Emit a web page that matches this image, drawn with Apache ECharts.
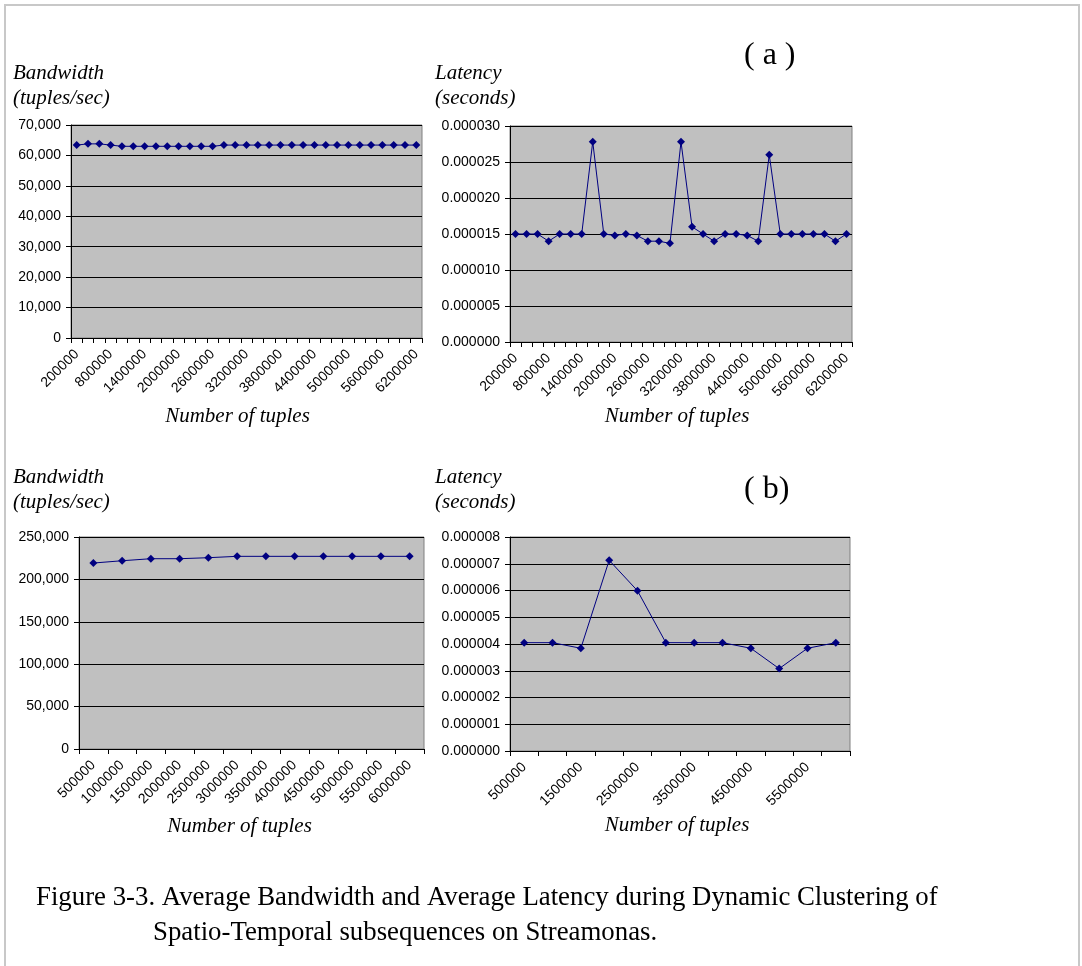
<!DOCTYPE html>
<html>
<head>
<meta charset="utf-8">
<script src="https://cdn.jsdelivr.net/npm/echarts@6/dist/echarts.min.js"></script>
<style>
html,body{margin:0;padding:0;background:#fff;}
#c{width:1082px;height:966px;}
</style>
</head>
<body>
<div id="c"></div>
<script>
// ---- Data ----
const catsA = [200000,400000,600000,800000,1000000,1200000,1400000,1600000,1800000,2000000,2200000,2400000,2600000,2800000,3000000,3200000,3400000,3600000,3800000,4000000,4200000,4400000,4600000,4800000,5000000,5200000,5400000,5600000,5800000,6000000,6200000];
const bandwidthA = [63400,63800,63800,63400,63000,63000,63000,63000,63000,63000,63000,63000,63000,63400,63400,63400,63400,63400,63400,63400,63400,63400,63400,63400,63400,63400,63400,63400,63400,63400,63400];
const latencyA = [0.000015,0.000015,0.000015,0.000014,0.000015,0.000015,0.000015,0.0000278,0.000015,0.0000148,0.000015,0.0000148,0.000014,0.000014,0.0000137,0.0000278,0.000016,0.000015,0.000014,0.000015,0.000015,0.0000148,0.000014,0.000026,0.000015,0.000015,0.000015,0.000015,0.000015,0.000014,0.000015];
const catsB = [500000,1000000,1500000,2000000,2500000,3000000,3500000,4000000,4500000,5000000,5500000,6000000];
const bandwidthB = [219300,222000,224400,224400,225600,227200,227200,227200,227200,227200,227200,227200];
const latencyB = [0.00000405,0.00000405,0.00000384,0.00000713,0.00000599,0.00000405,0.00000405,0.00000405,0.00000384,0.00000308,0.00000384,0.00000405];

const captionLine1 = "Figure 3-3. Average Bandwidth and Average Latency during Dynamic Clustering of";
const captionLine2 = "Spatio-Temporal subsequences on Streamonas.";

// ---- Styles ----
const NAVY = '#000080';
const serif = '"Liberation Serif","Times New Roman",serif';
const sans = '"Liberation Sans",Arial,sans-serif';

const grids = [
  {left:71, top:125, width:351, height:213},
  {left:510, top:126, width:342, height:216},
  {left:79, top:537, width:345, height:212},
  {left:510, top:537, width:340, height:214}
];

function fmtThousands(v){ return Math.round(v).toString().replace(/\B(?=(\d{3})+(?!\d))/g, ','); }
function fmtSmall(v){ return Math.abs(v) < 1e-12 ? '0.000000' : v.toFixed(6); }

function xAxis(gi, cats, labelInterval, nameGap, shift){
  return {
    type:'category', gridIndex:gi, data:cats.map(String), boundaryGap:true,
    name:'Number of tuples', nameLocation:'middle', nameGap:nameGap,
    nameTextStyle:{fontFamily:serif, fontStyle:'italic', fontSize:21, color:'#000', padding:[0, shift*2, 0, 0]},
    axisLine:{show:true, lineStyle:{color:'#000', width:1}},
    axisTick:{show:true, interval:0, length:5, lineStyle:{color:'#000'}},
    axisLabel:{interval:labelInterval, rotate:45, margin:14, fontFamily:sans, fontSize:14, color:'#000'},
    splitLine:{show:false}
  };
}
function yAxis(gi, max, interval, fmt){
  return {
    type:'value', gridIndex:gi, min:0, max:max, interval:interval,
    axisLine:{show:true, lineStyle:{color:'#000', width:1}},
    axisTick:{show:true, length:5, lineStyle:{color:'#000'}},
    axisLabel:{fontFamily:sans, fontSize:14, color:'#000', margin:10, formatter:fmt},
    splitLine:{show:true, lineStyle:{color:'#000', width:1}}
  };
}
function series(i, data){
  return {
    type:'line', xAxisIndex:i, yAxisIndex:i, data:data,
    symbol:'diamond', symbolSize:8, showSymbol:true, showAllSymbol:true,
    lineStyle:{color:NAVY, width:1}, itemStyle:{color:NAVY},
    animation:false
  };
}

const chart = echarts.init(document.getElementById('c'), null, {renderer:'canvas'});
chart.setOption({
  backgroundColor:'#fff',
  animation:false,
  grid: grids.map(g => Object.assign({show:true, backgroundColor:'#c0c0c0', borderColor:'#808080', borderWidth:1, containLabel:false}, g)),
  xAxis:[ xAxis(0, catsA, 2, 68, 9), xAxis(1, catsA, 2, 64, 4), xAxis(2, catsB, 0, 67, 12), xAxis(3, catsB, 1, 64, 3) ],
  yAxis:[ yAxis(0, 70000, 10000, fmtThousands), yAxis(1, 0.00003, 0.000005, fmtSmall), yAxis(2, 250000, 50000, fmtThousands), yAxis(3, 0.000008, 0.000001, fmtSmall) ],
  series:[ series(0, bandwidthA), series(1, latencyA), series(2, bandwidthB), series(3, latencyB) ],
  graphic:[
    {type:'rect', shape:{x:5, y:5, width:1074, height:970}, style:{fill:'none', stroke:'#c8c8c8', lineWidth:2}, silent:true},
    {type:'text', left:13, top:61, style:{text:'Bandwidth\n(tuples/sec)', fontFamily:serif, fontStyle:'italic', fontSize:21, lineHeight:25, fill:'#000'}},
    {type:'text', left:435, top:61, style:{text:'Latency\n(seconds)', fontFamily:serif, fontStyle:'italic', fontSize:21, lineHeight:25, fill:'#000'}},
    {type:'text', left:13, top:465, style:{text:'Bandwidth\n(tuples/sec)', fontFamily:serif, fontStyle:'italic', fontSize:21, lineHeight:25, fill:'#000'}},
    {type:'text', left:435, top:465, style:{text:'Latency\n(seconds)', fontFamily:serif, fontStyle:'italic', fontSize:21, lineHeight:25, fill:'#000'}},
    {type:'text', left:744, top:40, style:{text:'( a )', fontFamily:serif, fontSize:32, fill:'#000'}},
    {type:'text', left:744, top:474, style:{text:'( b)', fontFamily:serif, fontSize:32, fill:'#000'}},
    {type:'text', left:36, top:884, style:{text:captionLine1, fontFamily:serif, fontSize:26.8, fill:'#000'}},
    {type:'text', left:153, top:919, style:{text:captionLine2, fontFamily:serif, fontSize:26.8, fill:'#000'}}
  ]
});
</script>
</body>
</html>
